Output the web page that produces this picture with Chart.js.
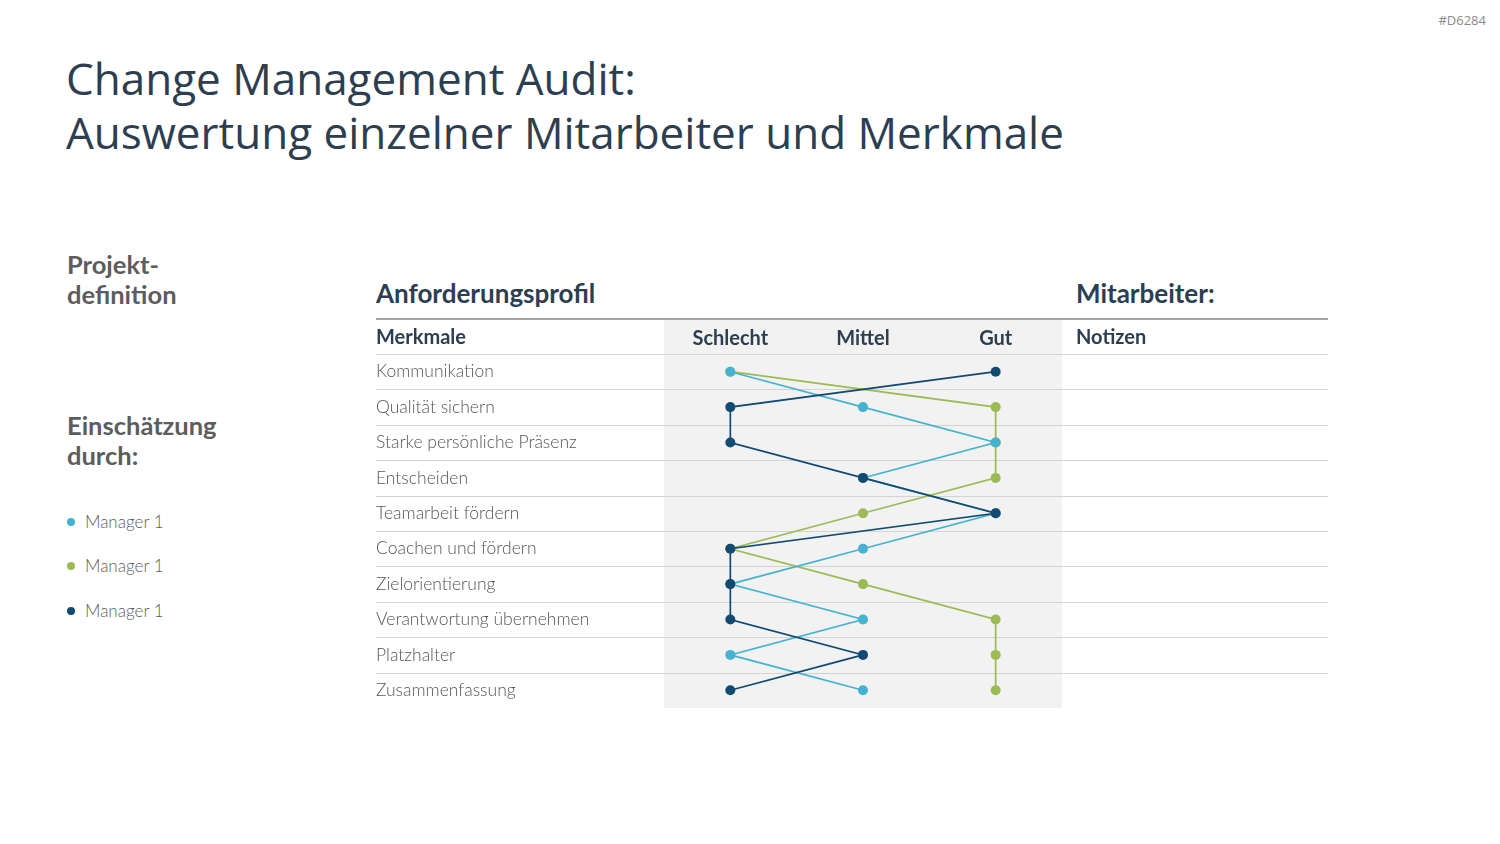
<!DOCTYPE html>
<html>
<head>
<meta charset="utf-8">
<script src="https://cdn.jsdelivr.net/npm/chart.js@4"></script>
<style>
  body { margin: 0; width: 1500px; height: 844px; background: #fff; overflow: hidden; font-family: Lato, "Open Sans", sans-serif; position: relative; }
  .abs { position: absolute; white-space: nowrap; }
  #code { right: 14px; top: 11px; font-size: 13px; color: #8a8a8a; font-family: "Open Sans", sans-serif; }
  #title { left: 66px; top: 51px; font-size: 44px; line-height: 54px; color: #2c3e50; font-family: "Open Sans", sans-serif; }
  .side { left: 67px; font-size: 25.5px; line-height: 30px; font-weight: bold; color: #5d5d5d; }
  .leg { left: 67px; font-size: 17px; color: #5d5d5d; font-weight: 300; }
  .leg span { display: inline-block; width: 8px; height: 8px; border-radius: 50%; margin-right: 10px; vertical-align: 2px; }
  .head { font-size: 26px; font-weight: bold; color: #2c3e50; top: 277px; }
  canvas { position: absolute; left: 0; top: 0; }
</style>
</head>
<body>
<div id="code" class="abs">#D6284</div>
<div id="title" class="abs">Change Management Audit:<br>Auswertung einzelner Mitarbeiter und Merkmale</div>
<div class="abs side" style="top:249px">Projekt-<br>definition</div>
<div class="abs side" style="top:410px">Einschätzung<br>durch:</div>
<div class="abs leg" style="top:511px"><span style="background:#45b3d0"></span>Manager 1</div>
<div class="abs leg" style="top:555px"><span style="background:#9bbb55"></span>Manager 1</div>
<div class="abs leg" style="top:600px"><span style="background:#124a72"></span>Manager 1</div>
<div class="abs head" style="left:376px">Anforderungsprofil</div>
<div class="abs head" style="left:1076px">Mitarbeiter:</div>
<canvas id="chart" width="1500" height="844"></canvas>
<script>
const merkmale = [
  'Kommunikation',
  'Qualität sichern',
  'Starke persönliche Präsenz',
  'Entscheiden',
  'Teamarbeit fördern',
  'Coachen und fördern',
  'Zielorientierung',
  'Verantwortung übernehmen',
  'Platzhalter',
  'Zusammenfassung'
];
const stufen = ['Schlecht', 'Mittel', 'Gut'];

const managerHellblau = ['Schlecht', 'Mittel', 'Gut', 'Mittel', 'Gut', 'Mittel', 'Schlecht', 'Mittel', 'Schlecht', 'Mittel'];
const managerGruen = ['Schlecht', 'Gut', 'Gut', 'Gut', 'Mittel', 'Schlecht', 'Mittel', 'Gut', 'Gut', 'Gut'];
const managerDunkel = ['Gut', 'Schlecht', 'Schlecht', 'Mittel', 'Gut', 'Schlecht', 'Schlecht', 'Schlecht', 'Mittel', 'Schlecht'];

const toPoints = arr => merkmale.map((m, i) => ({ x: arr[i], y: m }));

const TABLE_LEFT = 376;
const TABLE_RIGHT = 1328;
const HEADER_TOP = 319;

// grey band, row lines and the column headers outside the chart area
const tablePlugin = {
  id: 'table',
  beforeDraw(chart) {
    const { ctx, chartArea } = chart;
    const y = chart.scales.y;
    const rowH = (chartArea.bottom - chartArea.top) / merkmale.length;
    ctx.save();
    ctx.fillStyle = '#f2f2f2';
    ctx.fillRect(chartArea.left, HEADER_TOP, chartArea.right - chartArea.left, chartArea.bottom - HEADER_TOP);

    ctx.strokeStyle = '#d4d4d4';
    ctx.lineWidth = 1;
    for (let i = 0; i < merkmale.length; i++) {
      const yy = Math.round(y.getPixelForValue(i) - rowH / 2) + 0.5;
      ctx.beginPath();
      ctx.moveTo(TABLE_LEFT, yy);
      ctx.lineTo(TABLE_RIGHT, yy);
      ctx.stroke();
    }
    ctx.strokeStyle = '#a6a6a6';
    ctx.lineWidth = 2;
    ctx.beginPath();
    ctx.moveTo(TABLE_LEFT, HEADER_TOP);
    ctx.lineTo(TABLE_RIGHT, HEADER_TOP);
    ctx.stroke();

    ctx.fillStyle = '#2c3e50';
    ctx.font = 'bold 20px Lato, sans-serif';
    ctx.textBaseline = 'middle';
    ctx.textAlign = 'left';
    const hy = (HEADER_TOP + chartArea.top) / 2 + 1;
    ctx.fillText('Merkmale', TABLE_LEFT, hy);
    ctx.fillText('Notizen', 1076, hy);
    ctx.restore();
  }
};

new Chart(document.getElementById('chart'), {
  type: 'line',
  data: {
    datasets: [
      {
        label: 'Manager 1',
        data: toPoints(managerHellblau),
        borderColor: '#45b3d0',
        backgroundColor: '#45b3d0',
        order: 2
      },
      {
        label: 'Manager 1',
        data: toPoints(managerGruen),
        borderColor: '#9bbb55',
        backgroundColor: '#9bbb55',
        order: 3
      },
      {
        label: 'Manager 1',
        data: toPoints(managerDunkel),
        borderColor: '#124a72',
        backgroundColor: '#124a72',
        order: 1
      }
    ]
  },
  options: {
    responsive: false,
    animation: false,
    elements: {
      line: { borderWidth: 1.7, tension: 0 },
      point: { radius: 5, borderWidth: 0, hoverRadius: 5 }
    },
    layout: {
      padding: { left: TABLE_LEFT, top: HEADER_TOP, right: 1500 - 1062, bottom: 844 - 708 }
    },
    plugins: {
      legend: { display: false },
      tooltip: { enabled: false }
    },
    scales: {
      x: {
        type: 'category',
        labels: stufen,
        position: 'top',
        offset: true,
        border: { display: false },
        grid: { display: false, drawTicks: false },
        ticks: {
          color: '#2c3e50',
          font: { family: 'Lato', size: 20, weight: 'bold' },
          padding: 3,
          maxRotation: 0
        },
        afterFit(scale) { scale.height = 35; }
      },
      y: {
        type: 'category',
        labels: merkmale,
        offset: true,
        border: { display: false },
        grid: { display: false, drawTicks: false },
        ticks: {
          color: '#555555',
          crossAlign: 'far',
          font: { family: 'Lato', size: 17.5, weight: 300 },
          padding: 0
        },
        afterFit(scale) { scale.width = 664 - TABLE_LEFT; }
      }
    }
  },
  plugins: [tablePlugin]
});
</script>
</body>
</html>
